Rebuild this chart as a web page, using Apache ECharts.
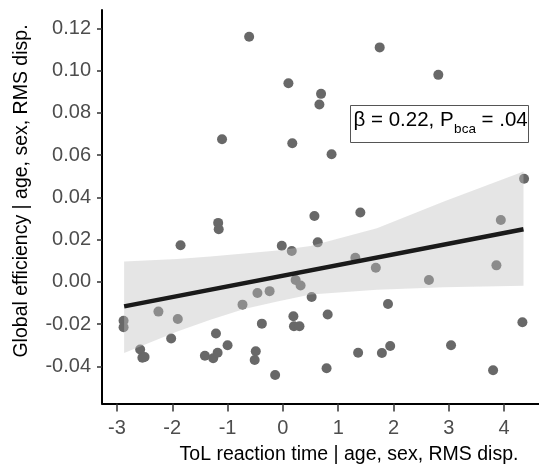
<!DOCTYPE html>
<html>
<head>
<meta charset="utf-8">
<title>Global efficiency vs ToL reaction time</title>
<script src="https://cdn.jsdelivr.net/npm/echarts@6.0.0/dist/echarts.min.js"></script>
<style>
    html, body { margin: 0; padding: 0; background: #fff; }
    #main { width: 539px; height: 467px; }
</style>
</head>
<body>
<div id="main"></div>
<script>
    // residual scatter
    var pointX = [-0.61, 0.10, 0.69, 0.66, -1.10, 0.17, 1.75, 2.81, 0.88, 4.36,
        0.57, -1.17, -1.16, -1.85, 0.63, -0.02, 0.16, 0.23, 0.32, 0.52,
        -0.46, -0.24, -0.73, -2.25, -1.90, -2.88, -2.88, -0.38, 0.19, 0.20,
        0.30, -1.21, -2.02, -2.58, -2.54, -2.50, -1.00, -1.41, -1.26, -1.18,
        -0.49, -0.51, -0.14, 1.40, 1.31, 1.68, 2.64, 3.94, 3.86, 1.90,
        0.81, 1.36, 1.79, 1.94, 3.04, 0.79, 3.80, 4.33];
    var pointY = [0.116, 0.094, 0.089, 0.084, 0.0675, 0.0656, 0.111, 0.098, 0.0604, 0.0488,
        0.0312, 0.0279, 0.0249, 0.0173, 0.0187, 0.0171, 0.0146, 0.0009, -0.0017, -0.0072,
        -0.0053, -0.0044, -0.0108, -0.0141, -0.0176, -0.0184, -0.0215, -0.0198, -0.0163, -0.0210,
        -0.0210, -0.0245, -0.0268, -0.0320, -0.0359, -0.0356, -0.0300, -0.0350, -0.0362, -0.0336,
        -0.0329, -0.0370, -0.0441, 0.0328, 0.0114, 0.0067, 0.0009, 0.0293, 0.0078, -0.0105,
        -0.0155, -0.0336, -0.0337, -0.0304, -0.0300, -0.0409, -0.0419, -0.0191];

    // fitted line and its confidence band
    var fitX = [-2.87, 4.35];
    var fitY = [-0.0116, 0.0249];
    var bandX = [-2.87, -1.91, -1.31, -0.70, -0.10, 0.50, 1.70, 2.91, 4.35];
    var bandUpper = [0.0096, 0.0108, 0.0120, 0.0134, 0.0148, 0.0170, 0.0254, 0.0380, 0.0522];
    var bandLower = [-0.0337, -0.0235, -0.0179, -0.0129, -0.0093, -0.0060, -0.0037, -0.0026, -0.0018];

    var xTicks = [-3, -2, -1, 0, 1, 2, 3, 4];
    var yTicks = [-0.04, -0.02, 0.00, 0.02, 0.04, 0.06, 0.08, 0.10, 0.12];

    var FONT = 'Liberation Sans';

    var scatterData = pointX.map(function (x, i) { return [x, pointY[i]]; });
    var lineData = fitX.map(function (x, i) { return [x, fitY[i]]; });

    // annotation pieces, laid out with measured widths
    var ctx = document.createElement('canvas').getContext('2d');
    function textWidth(s, size) {
        ctx.font = size + 'px "' + FONT + '"';
        return ctx.measureText(s).width;
    }
    var mainSize = 20.5, subSize = 13.5;
    var t1 = '\u03b2 = 0.22, P', t2 = 'bca', t3 = ' = .04';
    var ax = 353.5;
    var ax2 = ax + textWidth(t1, mainSize) + 0.5;
    var ax3 = ax2 + textWidth(t2, subSize);

    var myChart = echarts.init(document.getElementById('main'));

    var option = {
        animation: false,
        grid: { left: 102, right: 0, top: 10, bottom: 63.5 },
        xAxis: {
            type: 'value',
            min: -3.27,
            max: 4.63,
            splitLine: { show: false },
            axisLine: { onZero: false, lineStyle: { color: '#000', width: 2 } },
            axisTick: { customValues: xTicks, length: 8, lineStyle: { color: '#333', width: 1.5 } },
            axisLabel: {
                customValues: xTicks,
                margin: 15,
                fontSize: 20,
                fontFamily: FONT,
                color: '#4d4d4d'
            }
        },
        yAxis: {
            type: 'value',
            min: -0.0576,
            max: 0.1287,
            splitLine: { show: false },
            axisLine: { onZero: false, lineStyle: { color: '#000', width: 2 } },
            axisTick: { customValues: yTicks, length: 5, lineStyle: { color: '#333', width: 1.5 } },
            axisLabel: {
                customValues: yTicks,
                margin: 11,
                fontSize: 20,
                fontFamily: FONT,
                color: '#4d4d4d',
                formatter: function (v) { return v.toFixed(2); }
            }
        },
        series: [
            {
                type: 'scatter',
                data: scatterData,
                symbolSize: 10,
                itemStyle: { color: '#686868', opacity: 1 },
                z: 2
            },
            {
                type: 'custom',
                data: [[0, 0]],
                z: 3,
                silent: true,
                renderItem: function (params, api) {
                    var pts = [];
                    for (var i = 0; i < bandX.length; i++) pts.push(api.coord([bandX[i], bandUpper[i]]));
                    for (var j = bandX.length - 1; j >= 0; j--) pts.push(api.coord([bandX[j], bandLower[j]]));
                    return {
                        type: 'polygon',
                        shape: { points: pts },
                        style: { fill: 'rgba(191,191,191,0.41)' }
                    };
                }
            },
            {
                type: 'line',
                data: lineData,
                symbol: 'none',
                z: 4,
                lineStyle: { color: '#1a1a1a', width: 4.5, cap: 'butt' }
            }
        ],
        graphic: [
            {
                type: 'text',
                x: 22, y: 191,
                rotation: Math.PI / 2,
                style: {
                    text: 'Global efficiency | age, sex, RMS disp.',
                    x: 0, y: 0,
                    align: 'center', verticalAlign: 'middle',
                    font: '19.5px "' + FONT + '"',
                    fill: '#000'
                }
            },
            {
                type: 'text',
                x: 349, y: 455,
                style: {
                    text: 'ToL reaction time | age, sex, RMS disp.',
                    align: 'center', verticalAlign: 'middle',
                    font: '19.5px "' + FONT + '"',
                    fill: '#000'
                }
            },
            {
                type: 'rect',
                shape: { x: 350.5, y: 105.5, width: 178, height: 37 },
                style: { fill: '#fff', stroke: '#555', lineWidth: 1 },
                z: 10
            },
            {
                type: 'text', x: ax, y: 120, z: 11,
                style: { text: t1, verticalAlign: 'middle', font: mainSize + 'px "' + FONT + '"', fill: '#000' }
            },
            {
                type: 'text', x: ax2, y: 129.5, z: 11,
                style: { text: t2, verticalAlign: 'middle', font: subSize + 'px "' + FONT + '"', fill: '#000' }
            },
            {
                type: 'text', x: ax3, y: 120, z: 11,
                style: { text: t3, verticalAlign: 'middle', font: mainSize + 'px "' + FONT + '"', fill: '#000' }
            }
        ]
    };

    myChart.setOption(option);
</script>
</body>
</html>
